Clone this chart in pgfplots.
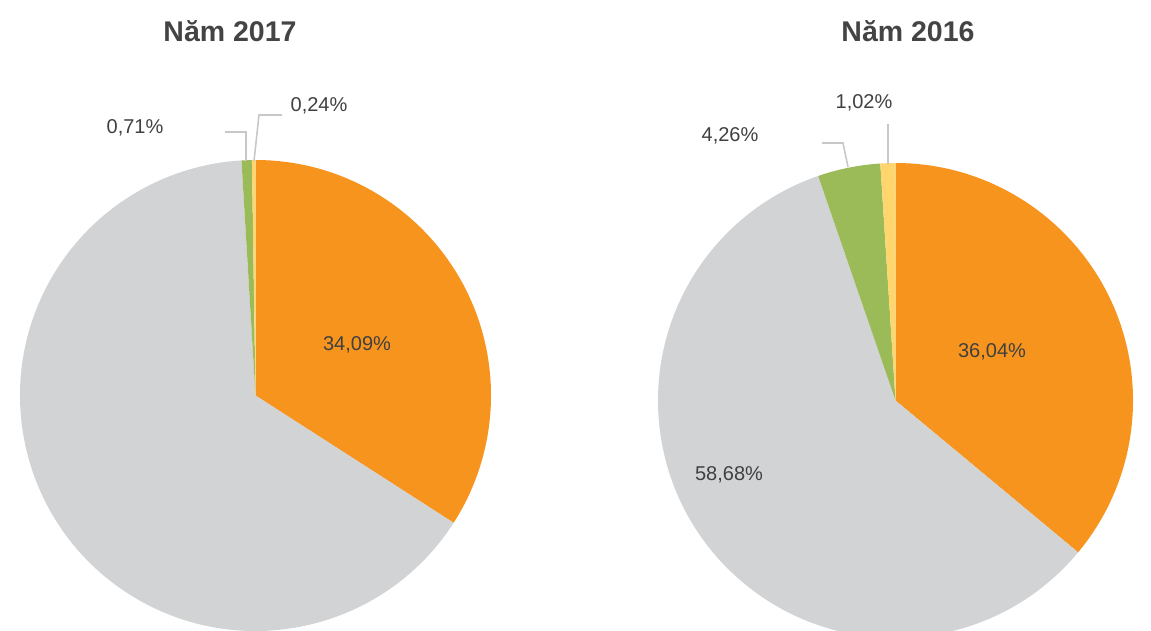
\documentclass[border=0pt]{standalone}
\usepackage{pgfplots}
\usepackage{pgfplotstable}
\pgfplotsset{compat=1.18}
\usepackage{fontspec}
\setmainfont{Liberation Sans}
\definecolor{cOrange}{HTML}{F7941E}
\definecolor{cGray}{HTML}{D1D3D4}
\definecolor{cGreen}{HTML}{9BBB59}
\definecolor{cYellow}{HTML}{FFD56E}
\definecolor{cLine}{HTML}{C8C8C8}
\definecolor{cText}{HTML}{404040}
\definecolor{cTitle}{HTML}{444444}

\pgfplotstableread{
value color
34.09 cOrange
64.96 cGray
0.71 cGreen
0.24 cYellow
}\pieA
\pgfplotstableread{
value color
36.04 cOrange
58.68 cGray
4.26 cGreen
1.02 cYellow
}\pieB

\newcommand\drawpie[4]{%
  \pgfplotstablegetrowsof{#1}%
  \pgfmathtruncatemacro\lastrow{\pgfplotsretval-1}%
  \gdef\startang{90}%
  \pgfplotsforeachungrouped \i in {0,...,\lastrow}{%
    \pgfplotstablegetelem{\i}{value}\of{#1}\let\val\pgfplotsretval
    \pgfplotstablegetelem{\i}{color}\of{#1}\let\col\pgfplotsretval
    \pgfmathsetmacro\endang{\startang-3.6*\val}%
    \edef\temp{\noexpand\fill[\col] (axis cs:#2,#3) -- ++(\startang:#4pt) arc[start angle=\startang, end angle=\endang, radius=#4pt] -- cycle;}%
    \temp
    \global\let\startang\endang
  }%
}

\begin{document}
\begin{tikzpicture}
\clip (0,0) rectangle (1151pt,630pt);
\begin{axis}[hide axis, scale only axis, width=1151pt, height=630pt,
  at={(0,0)}, anchor=south west,
  xmin=0, xmax=1151, ymin=0, ymax=630, y dir=reverse, clip=false]
\drawpie{\pieA}{255.5}{395.5}{235.5}
\drawpie{\pieB}{895.5}{400.5}{237.5}
% leader lines
\draw[cLine, line width=1.6pt] (axis cs:246,161) -- (axis cs:246,132) -- (axis cs:225,132);
\draw[cLine, line width=1.6pt] (axis cs:254,161) -- (axis cs:259,115) -- (axis cs:282,115);
\draw[cLine, line width=1.6pt] (axis cs:848,167) -- (axis cs:843,143) -- (axis cs:822,143);
\draw[cLine, line width=1.6pt] (axis cs:888,164) -- (axis cs:888,124);
% labels
\begin{scope}[every node/.style={font=\fontsize{20}{24}\selectfont, text=cText}]
\node at (axis cs:357,345) {34,09\%};
\node at (axis cs:135,128) {0,71\%};
\node at (axis cs:319,106) {0,24\%};
\node at (axis cs:992,352) {36,04\%};
\node at (axis cs:729,475) {58,68\%};
\node at (axis cs:730,136) {4,26\%};
\node at (axis cs:864,103) {1,02\%};
\end{scope}
\node[font=\fontsize{28.5}{32}\selectfont\bfseries, text=cTitle] at (axis cs:230,31) {Năm 2017};
\node[font=\fontsize{28.5}{32}\selectfont\bfseries, text=cTitle] at (axis cs:908,31) {Năm 2016};
\end{axis}
\end{tikzpicture}
\end{document}
